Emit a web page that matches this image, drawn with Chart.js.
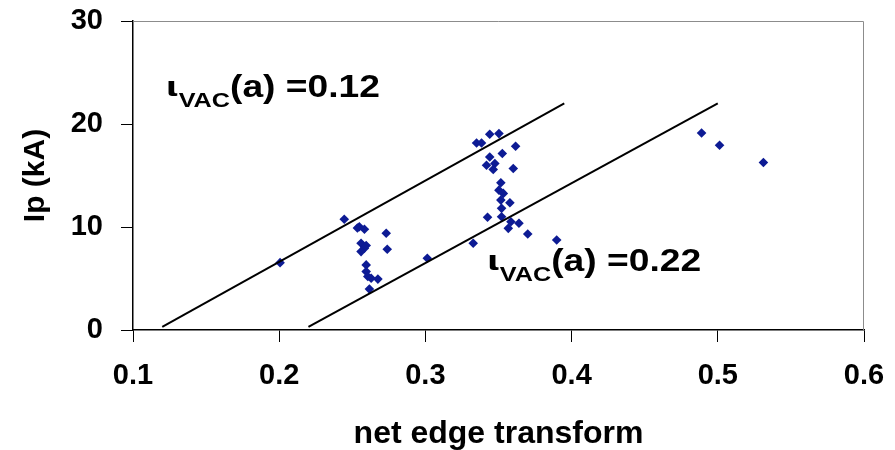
<!DOCTYPE html>
<html>
<head>
<meta charset="utf-8">
<script src="https://cdn.jsdelivr.net/npm/chart.js@4.4.1/dist/chart.umd.min.js"></script>
<style>
  html, body { margin: 0; padding: 0; background: #fff; }
</style>
</head>
<body>
<canvas id="chart" width="895" height="450"></canvas>
<script>
// Shots: net edge transform vs plasma current Ip (kA)
const netEdge = [
    0.2006, 0.2445, 0.2548, 0.2535, 0.2583, 0.2732, 0.2560, 0.2595, 0.2583, 0.2560,
    0.2739, 0.2595, 0.2595, 0.2606, 0.2629, 0.2675, 0.2617,
    0.3440, 0.3503, 0.3350, 0.3384, 0.3617, 0.3440, 0.3526, 0.3418, 0.3475,
    0.3464, 0.3601, 0.3516, 0.3503, 0.3533, 0.3578, 0.3516, 0.3521, 0.3425,
    0.3521, 0.3585, 0.3640, 0.3567, 0.3700, 0.3898, 0.3327, 0.3013,
    0.4889, 0.5012, 0.5312
];
const plasmaCurrent = [
    6.54, 10.75, 10.03, 9.90, 9.78, 9.39, 8.42, 8.20, 7.94, 7.61,
    7.84, 6.32, 5.67, 5.19, 5.03, 4.94, 3.97,
    19.00, 19.07, 18.16, 18.16, 17.84, 16.80, 17.13, 16.00, 16.17,
    15.59, 15.68, 14.29, 13.58, 13.26, 12.35, 12.61, 11.81, 10.94,
    11.00, 10.51, 10.36, 9.87, 9.32, 8.74, 8.42, 6.97,
    19.13, 17.94, 16.26
];

// Constant iota_VAC(a) lines
const lineLowX = [0.12, 0.395];
const lineLowY = [0.3, 22];
const lineHighX = [0.22, 0.50];
const lineHighY = [0.3, 22];

const xTicks = [0.1, 0.2, 0.3, 0.4, 0.5, 0.6];
const yTicks = [0, 10, 20, 30];

// Line labels, anchored (left end, baseline) in data units
const labelValues = ['0.12', '0.22'];
const labelAnchorX = [0.1226, 0.3423];
const labelAnchorY = [22.6, 5.75];

const FONT = '"Liberation Sans", Arial, Helvetica, sans-serif';

function toPoints(xs, ys) {
    return xs.map((v, i) => ({ x: v, y: ys[i] }));
}

// Grey top/right frame of the plot area
const frameLines = {
    id: 'frameLines',
    beforeDatasetsDraw(chart) {
        const { ctx, chartArea: a } = chart;
        ctx.save();
        ctx.strokeStyle = '#8c8c8c';
        ctx.lineWidth = 1;
        ctx.beginPath();
        ctx.moveTo(a.left, a.top + 0.5);
        ctx.lineTo(a.right - 0.5, a.top + 0.5);
        ctx.lineTo(a.right - 0.5, a.bottom);
        ctx.stroke();
        ctx.restore();
    }
};

// iota_VAC(a) = ... text next to each line (text box is a bit wide)
const iotaLabels = {
    id: 'iotaLabels',
    afterDatasetsDraw(chart) {
        const { ctx, scales: { x, y } } = chart;
        const stretch = 1.2;
        ctx.save();
        ctx.fillStyle = '#000';
        ctx.textBaseline = 'alphabetic';
        ctx.textAlign = 'left';
        labelValues.forEach((val, i) => {
            const x0 = x.getPixelForValue(labelAnchorX[i]);
            const py = y.getPixelForValue(labelAnchorY[i]);
            ctx.save();
            ctx.translate(x0, py);
            ctx.scale(stretch, 1);
            let px = 0;
            ctx.font = 'bold 27px "DejaVu Sans", ' + FONT;
            ctx.fillText('\u03B9', px, -1);
            px += ctx.measureText('\u03B9').width;
            ctx.font = 'bold 21px ' + FONT;
            ctx.fillText('VAC', px, 10);
            px += ctx.measureText('VAC').width;
            ctx.font = 'bold 31px ' + FONT;
            ctx.fillText('(a) =' + val, px, 0);
            ctx.restore();
        });
        ctx.restore();
    }
};

const ctx = document.getElementById('chart').getContext('2d');
new Chart(ctx, {
    type: 'scatter',
    data: {
        datasets: [
            {
                label: 'iota 0.12',
                data: toPoints(lineLowX, lineLowY),
                showLine: true,
                borderColor: '#000',
                borderWidth: 2,
                pointRadius: 0
            },
            {
                label: 'iota 0.22',
                data: toPoints(lineHighX, lineHighY),
                showLine: true,
                borderColor: '#000',
                borderWidth: 2,
                pointRadius: 0
            },
            {
                label: 'shots',
                data: toPoints(netEdge, plasmaCurrent),
                pointStyle: 'rectRot',
                pointRadius: 4.8,
                backgroundColor: '#0d1b94',
                borderColor: '#0d1b94',
                borderWidth: 0
            }
        ]
    },
    options: {
        responsive: false,
        animation: false,
        devicePixelRatio: 1,
        layout: { padding: { top: 21, right: 31, left: 0, bottom: 0 } },
        plugins: {
            legend: { display: false },
            tooltip: { enabled: false }
        },
        scales: {
            x: {
                type: 'linear',
                min: 0.1,
                max: 0.6,
                afterBuildTicks: s => { s.ticks = xTicks.map(v => ({ value: v })); },
                afterFit: s => {
                    s.height = 120;
                    s.paddingLeft = 0;
                    s.paddingRight = 0;
                },
                grid: {
                    drawOnChartArea: false,
                    drawTicks: true,
                    tickLength: 12,
                    color: '#000'
                },
                border: { display: true, color: '#000', width: 1.5 },
                ticks: {
                    color: '#000',
                    padding: 17,
                    maxRotation: 0,
                    font: { family: FONT, size: 29, weight: 'bold' },
                    callback: v => v.toFixed(1)
                },
                title: {
                    display: true,
                    text: 'net edge transform',
                    color: '#000',
                    padding: 0,
                    font: { family: FONT, size: 32, weight: 'bold', lineHeight: 1 }
                }
            },
            y: {
                type: 'linear',
                min: 0,
                max: 30,
                afterBuildTicks: s => { s.ticks = yTicks.map(v => ({ value: v })); },
                afterFit: s => {
                    s.width = 133;
                    s.paddingTop = 0;
                    s.paddingBottom = 0;
                },
                grid: {
                    drawOnChartArea: false,
                    drawTicks: true,
                    tickLength: 12,
                    color: '#000'
                },
                border: { display: true, color: '#000', width: 1.5 },
                ticks: {
                    color: '#000',
                    padding: 18,
                    font: { family: FONT, size: 29, weight: 'bold' },
                    callback: v => v
                },
                title: {
                    display: true,
                    text: 'Ip (kA)',
                    color: '#000',
                    padding: { top: 21, bottom: 0 },
                    font: { family: FONT, size: 30, weight: 'bold', lineHeight: 1 }
                }
            }
        }
    },
    plugins: [frameLines, iotaLabels]
});
</script>
</body>
</html>
